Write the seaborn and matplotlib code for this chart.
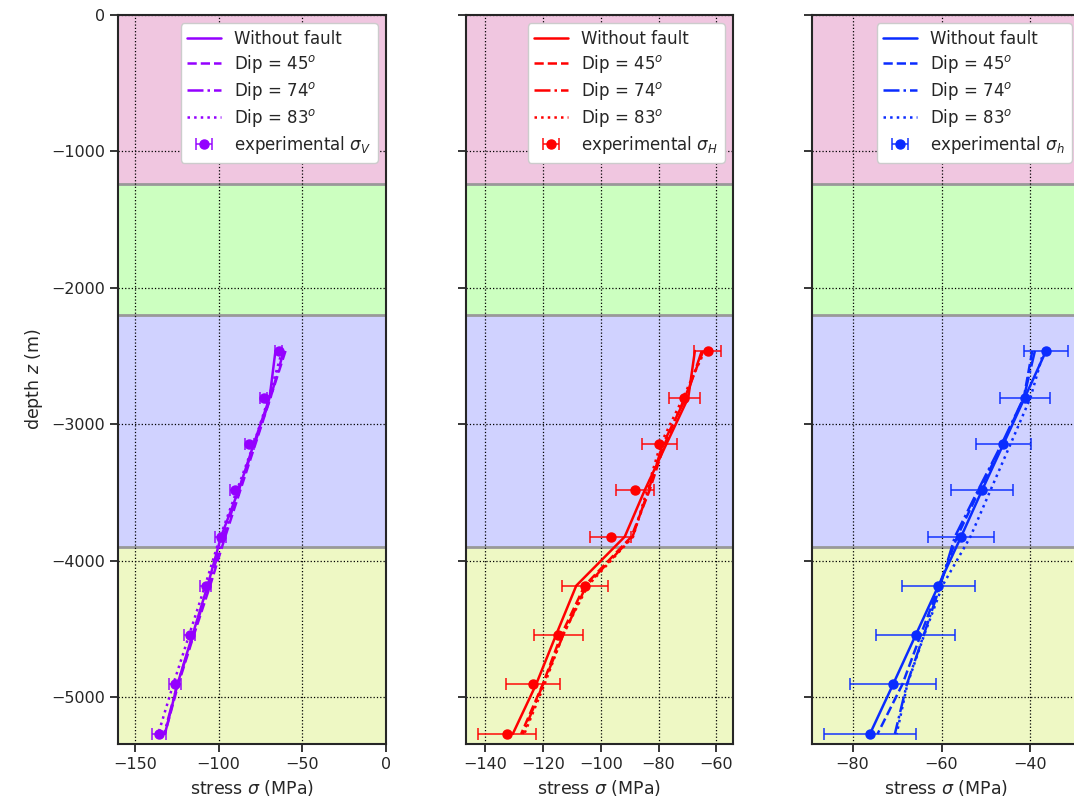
import numpy as np
import pandas as pd
import matplotlib
matplotlib.use("Agg")
import matplotlib.pyplot as plt
import matplotlib.colors as mcolors
import seaborn as sns

# ---------------- data ----------------
depth = [-2463, -2806, -3147, -3485, -3825, -4184, -4545, -4907, -5271]

# sigma_V panel
sv_exp = [-64.1, -73.0, -81.5, -90.3, -98.8, -107.7, -117.3, -126.0, -135.5]
sv_err = [2.0, 2.2, 2.5, 2.7, 3.0, 3.2, 3.5, 3.8, 4.0]
sv_nofault = [-66.0, -69.5, -79.0, -88.0, -98.5, -106.5, -115.5, -124.5, -132.0]
sv_dip45 = [-60.0, -69.0, -78.0, -87.0, -96.0, -105.0, -114.7, -124.0, -132.0]
sv_dip74 = [-61.0, -69.0, -78.5, -88.0, -97.0, -106.0, -115.0, -124.5, -132.5]
sv_dip83 = [-62.0, -70.0, -79.0, -89.0, -99.0, -108.0, -117.5, -127.0, -136.0]

# sigma_H panel
sH_exp = [-63.0, -71.1, -79.7, -88.3, -96.6, -105.4, -114.7, -123.5, -132.5]
sH_err = [4.6, 5.3, 6.0, 6.6, 7.2, 7.9, 8.6, 9.3, 10.0]
sH_nofault = [-67.4, -69.7, -77.3, -84.8, -91.7, -108.5, -115.5, -122.4, -130.5]
sH_dip45 = [-64.5, -70.9, -77.9, -83.1, -89.4, -105.6, -113.7, -120.1, -127.6]
sH_dip74 = [-65.0, -70.5, -78.5, -83.5, -89.0, -105.0, -113.0, -120.0, -127.0]
sH_dip83 = [-64.0, -71.5, -79.3, -84.0, -88.8, -104.5, -113.1, -119.5, -126.5]

# sigma_h panel
sh_exp = [-36.5, -41.3, -46.1, -50.9, -55.6, -60.7, -65.8, -70.9, -76.1]
sh_err = [4.9, 5.6, 6.2, 6.9, 7.5, 8.2, 8.9, 9.6, 10.3]
sh_nofault = [-36.5, -41.3, -46.1, -50.9, -55.6, -60.7, -65.8, -70.9, -76.1]
sh_dip45 = [-39.6, -41.5, -46.3, -51.5, -56.5, -60.5, -64.7, -68.8, -74.4]
sh_dip74 = [-39.0, -41.5, -46.5, -51.8, -57.0, -60.3, -64.0, -67.8, -70.5]
sh_dip83 = [-37.0, -40.0, -44.5, -49.0, -53.5, -59.8, -63.9, -67.7, -70.1]

layer_tops = [0, -1240, -2200, -3900]
layer_bottoms = [-1240, -2200, -3900, -5345]
layer_colors = ["#f0c6e0", "#ccffc0", "#d0d2ff", "#eef8c4"]

line_labels = ["Without fault", "Dip = 45$^o$", "Dip = 74$^o$", "Dip = 83$^o$"]
line_styles = ["-", "--", "-.", ":"]

panels = [
    dict(exp=sv_exp, err=sv_err, lines=[sv_nofault, sv_dip45, sv_dip74, sv_dip83],
         color="#9400ff", explabel="experimental $\\sigma_V$", xlim=(-160, 0)),
    dict(exp=sH_exp, err=sH_err, lines=[sH_nofault, sH_dip45, sH_dip74, sH_dip83],
         color="#ff0000", explabel="experimental $\\sigma_H$", xlim=None),
    dict(exp=sh_exp, err=sh_err, lines=[sh_nofault, sh_dip45, sh_dip74, sh_dip83],
         color="#0a2cff", explabel="experimental $\\sigma_h$", xlim=None),
]

# ---------------- figure ----------------
sns.set_theme(style="ticks")
plt.rcParams["font.family"] = ["DejaVu Sans"]

W, H = 1074, 809
fig = plt.figure(figsize=(W / 100, H / 100), dpi=100)
bottom = (H - 744) / H
height = (744 - 15) / H
lefts = [118, 466, 812]
rights = [386, 733, 1080]

for i, p in enumerate(panels):
    ax = fig.add_axes([lefts[i] / W, bottom, (rights[i] - lefts[i]) / W, height])
    for t, b, c in zip(layer_tops, layer_bottoms, layer_colors):
        ax.axhspan(b, t, color=c, zorder=0, lw=0)
    for b in layer_bottoms[:-1]:
        ax.axhline(b, color="#999999", lw=2, zorder=0.3)

    for vals, ls, lab in zip(p["lines"], line_styles, line_labels):
        df = pd.DataFrame({"stress": vals, "depth": depth})
        sns.lineplot(data=df, x="stress", y="depth", sort=False, estimator=None,
                     color=p["color"], linestyle=ls, lw=1.8, label=lab, ax=ax, zorder=3)
    ecol = mcolors.to_rgba(p["color"], 0.75)
    ax.errorbar(p["exp"], depth, xerr=p["err"], fmt="o", color=p["color"],
                ecolor=ecol, elinewidth=1.4, capsize=4, capthick=1.4,
                markersize=6.5, label=p["explabel"], zorder=4)

    ax.set_ylim(-5345, 0)
    if p["xlim"] is not None:
        ax.set_xlim(*p["xlim"])
    ax.set_yticks([0, -1000, -2000, -3000, -4000, -5000])
    ax.grid(True, color="black", linestyle=":", lw=0.9)
    ax.set_axisbelow(True)
    ax.set_xlabel("stress $\\sigma$ (MPa)", fontsize=12.5)
    if i == 0:
        ax.set_ylabel("depth $z$ (m)", fontsize=12.5)
        ax.set_xticks([-150, -100, -50, 0])
    else:
        ax.set_ylabel("")
        ax.tick_params(labelleft=False)
    if i == 1:
        ax.set_xticks([-140, -120, -100, -80, -60])
    if i == 2:
        ax.set_xticks([-80, -60, -40])
    ax.tick_params(labelsize=11.5, length=6, width=1.3)
    for s in ax.spines.values():
        s.set_linewidth(1.5)
        s.set_color("#262626")
        s.set_zorder(5)

    handles, labels = ax.get_legend_handles_labels()
    order = line_labels + [p["explabel"]]
    hmap = dict(zip(labels, handles))
    leg = ax.legend([hmap[k] for k in order], order, loc="upper right",
                    fontsize=12, framealpha=1.0, facecolor="white",
                    edgecolor="#cccccc", borderpad=0.4, handlelength=2.0,
                    labelspacing=0.3)
    leg.set_zorder(6)

fig.savefig("out.png", dpi=100)
